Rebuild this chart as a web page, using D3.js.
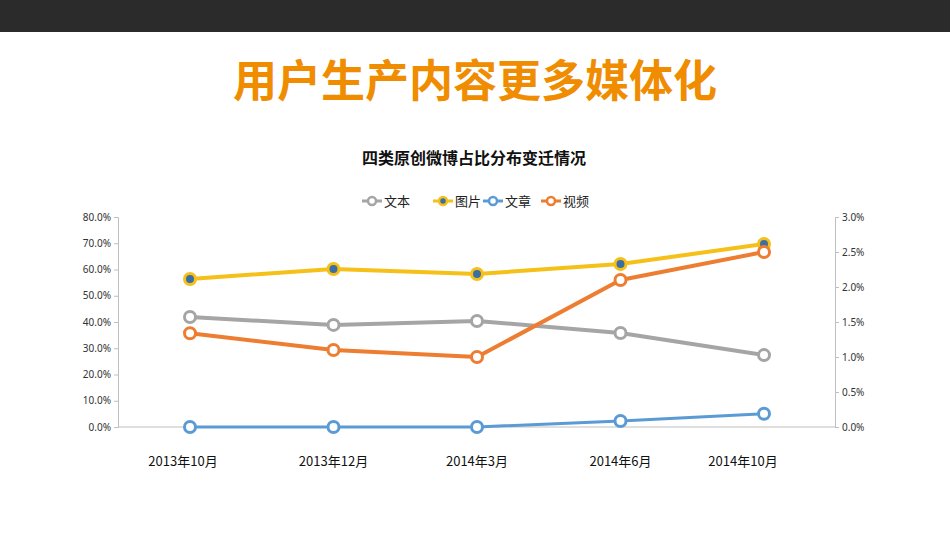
<!DOCTYPE html>
<html><head><meta charset="utf-8">
<script src="https://cdn.jsdelivr.net/npm/d3@7"></script>
<style>body{margin:0;background:#fff;font-family:"Noto Sans CJK SC","Noto Sans",sans-serif}</style>
</head><body><div id="chart"></div>
<script>
// data
const periods = ["2013年10月", "2013年12月", "2014年3月", "2014年6月", "2014年10月"];
const textShare = [0.419, 0.389, 0.404, 0.358, 0.274];     // 文本, left axis
const imageShare = [0.564, 0.602, 0.583, 0.621, 0.697];    // 图片, left axis
const articleShare = [0.0, 0.0, 0.0, 0.00086, 0.0019];     // 文章, right axis
const videoShare = [0.0134, 0.011, 0.010, 0.021, 0.025];   // 视频, right axis
const leftTicks = [0, 0.1, 0.2, 0.3, 0.4, 0.5, 0.6, 0.7, 0.8];
const rightTicks = [0, 0.005, 0.01, 0.015, 0.02, 0.025, 0.03];

const W = 950, H = 534;
const svg = d3.select("#chart").append("svg").attr("width", W).attr("height", H);

svg.append("rect").attr("width", W).attr("height", 32).attr("fill", "#2b2b2b");
svg.append("text").attr("x", W / 2).attr("y", 97).attr("text-anchor", "middle")
    .attr("font-size", 44).attr("font-weight", "bold").attr("fill", "#f08c00")
    .text("用户生产内容更多媒体化");
svg.append("text").attr("x", 474).attr("y", 164).attr("text-anchor", "middle")
    .attr("font-size", 16).attr("font-weight", "bold").attr("fill", "#111")
    .text("四类原创微博占比分布变迁情况");

const x = d3.scalePoint().domain(periods).range([190, 764]);
const yL = d3.scaleLinear().domain([0, 0.8]).range([427, 217]);
const yR = d3.scaleLinear().domain([0, 0.03]).range([427, 217]);

const axisColor = "#bfbfbf";
const left = svg.append("g").attr("transform", "translate(118,0)")
    .call(d3.axisLeft(yL).tickValues(leftTicks).tickFormat(d3.format(".1%")).tickSize(4));
const right = svg.append("g").attr("transform", "translate(835,0)")
    .call(d3.axisRight(yR).tickValues(rightTicks).tickFormat(d3.format(".1%")).tickSize(4));
[left, right].forEach(g => {
    g.selectAll("path,line").attr("stroke", axisColor);
    g.selectAll("text").attr("font-size", 10).attr("fill", "#333").attr("font-family", "Noto Sans");
});
svg.append("line").attr("x1", 118).attr("x2", 835).attr("y1", 427).attr("y2", 427).attr("stroke", axisColor);
svg.selectAll(".xl").data(periods).join("text")
    .attr("x", (d, i) => x(d) - (i === 0 ? 7 : i === 4 ? 21 : 0)).attr("y", 466)
    .attr("text-anchor", "middle").attr("font-size", 13).attr("fill", "#111").text(d => d);

const series = [
    {name: "文本", values: textShare, y: yL, color: "#a5a5a5", fill: "#fff", w: 4},
    {name: "图片", values: imageShare, y: yL, color: "#f5c018", fill: "#3b6ea5", w: 4},
    {name: "文章", values: articleShare, y: yR, color: "#5b9bd5", fill: "#fff", w: 3},
    {name: "视频", values: videoShare, y: yR, color: "#ed7d31", fill: "#fff", w: 4}
];

series.forEach(s => {
    const line = d3.line().x((d, i) => x(periods[i])).y(d => s.y(d));
    svg.append("path").attr("d", line(s.values)).attr("fill", "none")
        .attr("stroke", s.color).attr("stroke-width", s.w).attr("stroke-linejoin", "round");
    svg.selectAll(null).data(s.values).join("circle")
        .attr("cx", (d, i) => x(periods[i])).attr("cy", d => s.y(d)).attr("r", 5.5)
        .attr("fill", s.fill).attr("stroke", s.color).attr("stroke-width", 3);
});

// legend
const legX = [362, 433, 483, 541];
series.forEach((s, i) => {
    const g = svg.append("g").attr("transform", `translate(${legX[i]},201)`);
    g.append("line").attr("x1", 0).attr("x2", 20).attr("stroke", s.color).attr("stroke-width", 3);
    g.append("circle").attr("cx", 10).attr("r", 4).attr("fill", s.fill).attr("stroke", s.color).attr("stroke-width", 2.5);
    g.append("text").attr("x", 22).attr("y", 5).attr("font-size", 13).attr("fill", "#222").text(s.name);
});
</script></body></html>
